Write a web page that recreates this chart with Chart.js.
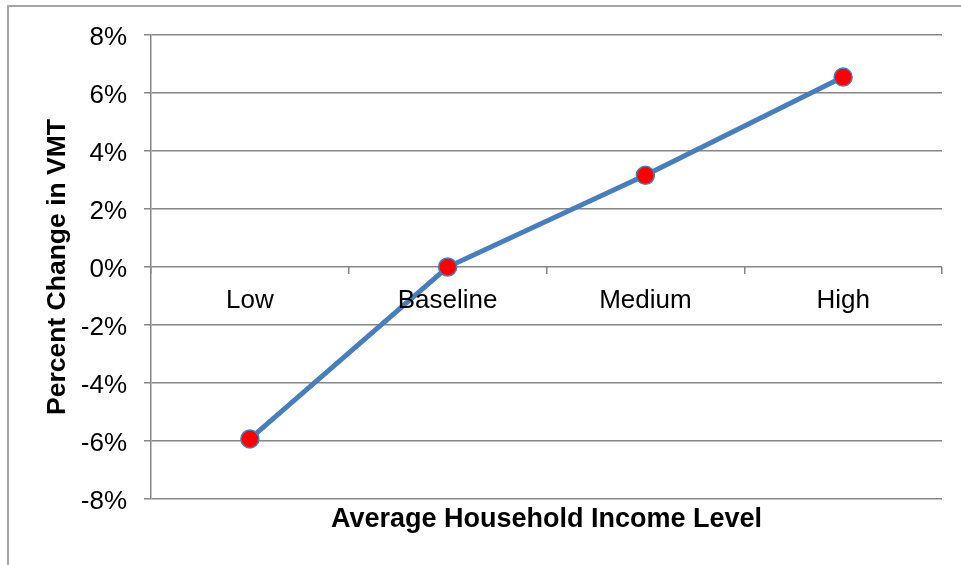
<!DOCTYPE html>
<html>
<head>
<meta charset="utf-8">
<script src="https://cdn.jsdelivr.net/npm/chart.js@4.4.1/dist/chart.umd.min.js"></script>
<style>
  html, body { margin: 0; padding: 0; background: #ffffff; overflow: hidden; }
  #frame { position: absolute; left: 7px; top: 5px; width: 1000px; height: 700px; border: 2px solid #A6A6A6; box-sizing: border-box; }
  #c { position: absolute; left: 0; top: 0; }
</style>
</head>
<body>
<div id="frame"></div>
<canvas id="c" width="961" height="565"></canvas>
<script>
const categories = ['Low', 'Baseline', 'Medium', 'High'];
const vmtChange = [-5.93, 0, 3.16, 6.55];
const yTickValues = [-8, -6, -4, -2, 0, 2, 4, 6, 8];
const xTitle = 'Average Household Income Level';
const yTitle = 'Percent Change in VMT';

const FONT = "'Liberation Sans', Arial, sans-serif";
const GRID = '#868686';

new Chart(document.getElementById('c'), {
  type: 'line',
  data: {
    labels: categories,
    datasets: [{
      data: vmtChange,
      borderColor: '#4A7EBB',
      borderWidth: 5,
      pointRadius: 9,
      pointHoverRadius: 9,
      pointBackgroundColor: '#FF0000',
      pointBorderColor: '#4A7EBB',
      pointBorderWidth: 1.5,
      tension: 0,
      fill: false
    }]
  },
  options: {
    responsive: false,
    animation: false,
    events: [],
    layout: { padding: { left: 0, right: 19, top: 35, bottom: 0 } },
    plugins: { legend: { display: false }, tooltip: { enabled: false } },
    scales: {
      x: {
        type: 'category',
        position: { y: 0 },
        offset: true,
        grid: { display: true, drawOnChartArea: false, drawTicks: true, tickLength: 7, color: GRID, lineWidth: 1.5, offset: true },
        border: { display: false },
        ticks: { color: '#000', font: { family: FONT, size: 26 }, padding: 11, maxRotation: 0, autoSkip: false, z: 1 }
      },
      x2: {
        type: 'category',
        position: 'bottom',
        offset: true,
        grid: { display: false },
        border: { display: false },
        ticks: { display: false },
        title: { display: true, text: xTitle, color: '#000', font: { family: FONT, size: 27, weight: 'bold' }, padding: { top: 0, bottom: 29 } },
        afterFit: s => { s.height = 66; }
      },
      y: {
        type: 'linear',
        position: 'left',
        min: -8,
        max: 8,
        afterBuildTicks: s => { s.ticks = yTickValues.map(v => ({ value: v })); },
        grid: { color: GRID, lineWidth: 1.5, drawTicks: true, tickLength: 7 },
        border: { display: true, color: GRID, width: 1.5 },
        ticks: { color: '#000', font: { family: FONT, size: 26 }, padding: 17, labelOffset: 2.5, callback: v => v + '%' },
        title: { display: true, text: yTitle, color: '#000', font: { family: FONT, size: 26.5, weight: 'bold' }, padding: { top: 42, bottom: 0 } },
        afterFit: s => { s.width = 151; }
      }
    }
  }
});
</script>
</body>
</html>
